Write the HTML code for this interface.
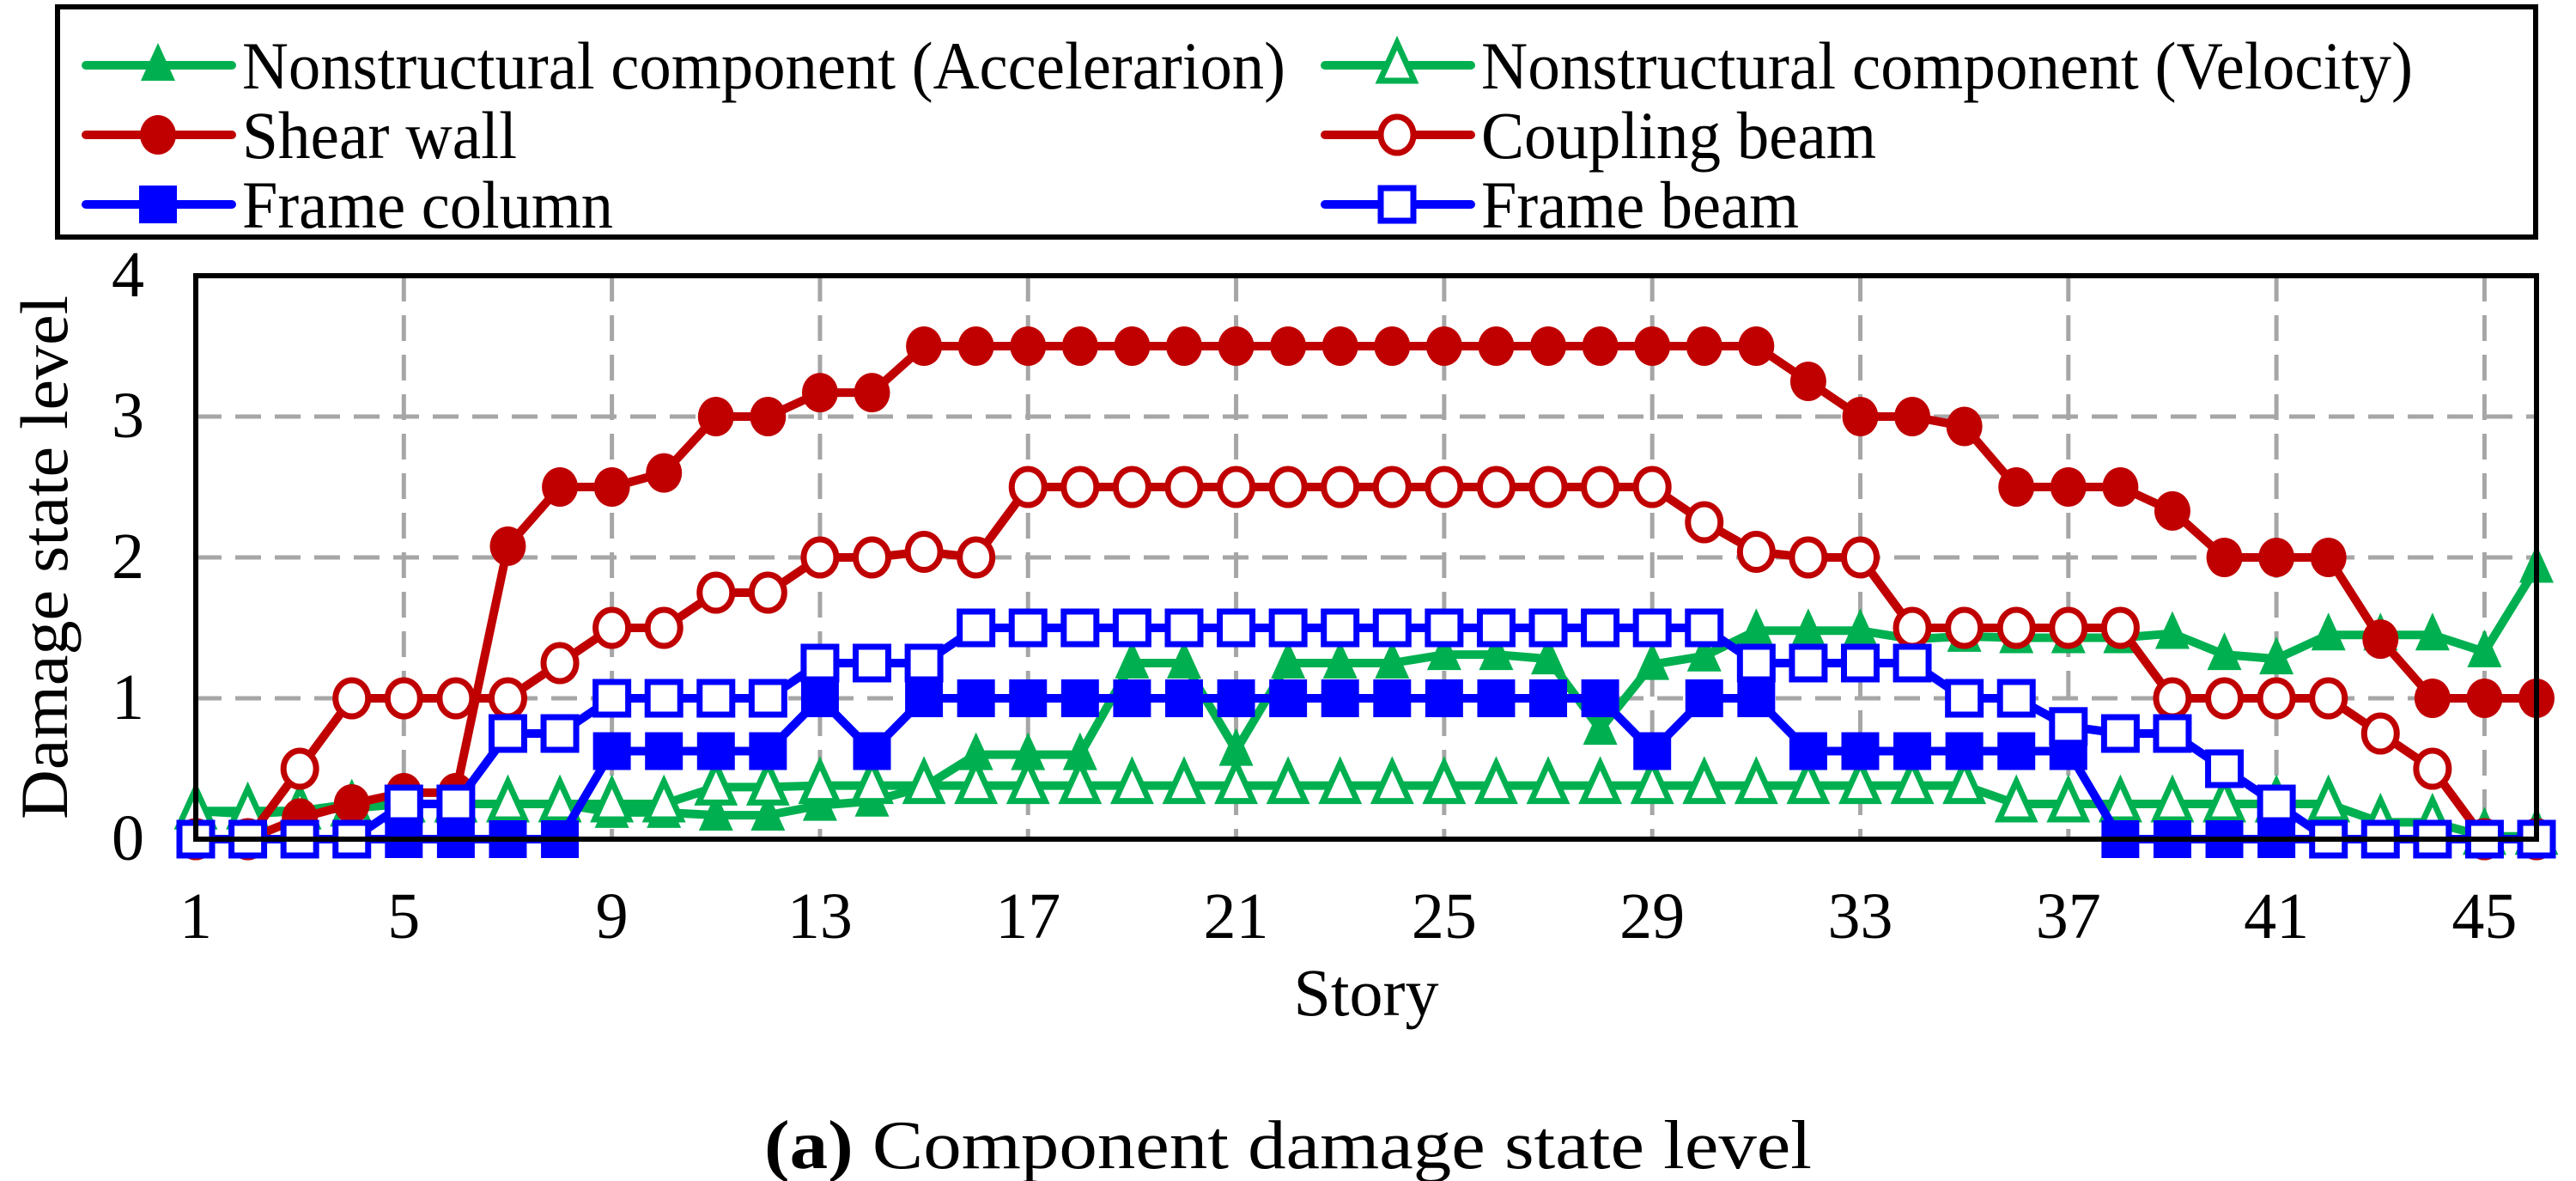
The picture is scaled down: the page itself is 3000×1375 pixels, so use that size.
<!DOCTYPE html>
<html><head><meta charset="utf-8"><style>
html,body{margin:0;padding:0;background:#fff;}
svg{display:block;font-family:"Liberation Serif","DejaVu Serif",serif;}
</style></head><body>
<svg id="chart" width="3000" height="1375" viewBox="0 0 3000 1375">
<g id="grid"></g>
<g id="series"></g>
<rect x="228" y="321" width="2726" height="656" fill="none" stroke="#000" stroke-width="6"/>
<g id="ticks"></g>
<text x="60" y="649" font-size="78" text-anchor="middle" dominant-baseline="middle" transform="rotate(-90 60 649)" textLength="610" lengthAdjust="spacingAndGlyphs">Damage state level</text>
<text x="1591" y="1182" font-size="78" text-anchor="middle">Story</text>
<text x="1500" y="1360" font-size="80" text-anchor="middle" textLength="1220" lengthAdjust="spacingAndGlyphs"><tspan font-weight="bold">(a)</tspan> Component damage state level</text>
<g id="legend">
<rect x="67" y="8" width="2886" height="268" fill="#fff" stroke="#000" stroke-width="6"/>
</g>
</svg>
<script>
const stories = Array.from({length:46},(_,i)=>i+1);
const xTicks = [1,5,9,13,17,21,25,29,33,37,41,45];
const yTicks = [0,1,2,3,4];
const accel = [0.2,0.18,0.2,0.25,0.25,0.25,0.25,0.25,0.19,0.19,0.17,0.17,0.24,0.27,0.37,0.6,0.6,0.6,1.25,1.25,0.63,1.25,1.25,1.25,1.31,1.31,1.28,0.78,1.24,1.3,1.48,1.48,1.48,1.42,1.44,1.43,1.43,1.43,1.46,1.31,1.28,1.45,1.45,1.45,1.33,1.93];
const velocity = [0.2,0.2,0.2,0.22,0.25,0.25,0.25,0.25,0.25,0.25,0.37,0.37,0.38,0.38,0.38,0.38,0.38,0.38,0.38,0.38,0.38,0.38,0.38,0.38,0.38,0.38,0.38,0.38,0.38,0.38,0.38,0.38,0.38,0.38,0.38,0.25,0.25,0.25,0.25,0.25,0.25,0.25,0.12,0.12,0.02,0.02];
const shearWall = [0,0,0.15,0.25,0.33,0.33,2.08,2.5,2.5,2.6,3,3,3.17,3.17,3.5,3.5,3.5,3.5,3.5,3.5,3.5,3.5,3.5,3.5,3.5,3.5,3.5,3.5,3.5,3.5,3.5,3.25,3,3,2.93,2.5,2.5,2.5,2.33,2,2,2,1.42,1,1,1];
const couplingBeam = [0,0,0.5,1,1,1,1,1.25,1.5,1.5,1.75,1.75,2,2,2.04,2,2.5,2.5,2.5,2.5,2.5,2.5,2.5,2.5,2.5,2.5,2.5,2.5,2.5,2.25,2.04,2,2,1.5,1.5,1.5,1.5,1.5,1,1,1,1,0.75,0.5,0,0];
const frameColumn = [0,0,0,0,0,0,0,0,0.625,0.625,0.625,0.625,1,0.625,1,1,1,1,1,1,1,1,1,1,1,1,1,1,0.625,1,1,0.625,0.625,0.625,0.625,0.625,0.625,0,0,0,0,0,0,0,0,0];
const frameBeam = [0,0,0,0,0.25,0.25,0.75,0.75,1,1,1,1,1.25,1.25,1.25,1.5,1.5,1.5,1.5,1.5,1.5,1.5,1.5,1.5,1.5,1.5,1.5,1.5,1.5,1.5,1.25,1.25,1.25,1.25,1,1,0.8,0.75,0.75,0.5,0.25,0,0,0,0,0];

const NS="http://www.w3.org/2000/svg";
const X0=228, X1=2954, Y0=977, Y1=321;
const xS = s => X0 + (s-1)*(X1-X0)/45;
const yS = v => Y0 - v*(Y0-Y1)/4;
function mk(tag,attrs,parent){const e=document.createElementNS(NS,tag);for(const k in attrs)e.setAttribute(k,attrs[k]);parent.appendChild(e);return e;}
const grid=document.getElementById('grid'), ticks=document.getElementById('ticks'), ser=document.getElementById('series'), leg=document.getElementById('legend');

xTicks.forEach(t=>{
  if(t>1){const l=mk('line',{x1:xS(t),x2:xS(t),y1:Y1,y2:Y0,stroke:'#a6a6a6','stroke-width':5,'stroke-dasharray':'30,16'},grid);
  
  }
  const tx=mk('text',{x:xS(t),y:1092,'font-size':76,'text-anchor':'middle'},ticks);tx.textContent=t;
  
  
});
yTicks.forEach(t=>{
  if(t>0&&t<4){const l=mk('line',{x1:X0,x2:X1,y1:yS(t),y2:yS(t),stroke:'#a6a6a6','stroke-width':5,'stroke-dasharray':'30,16'},grid);
  
  }
  const tx=mk('text',{x:168,y:yS(t)+24,'font-size':76,'text-anchor':'end'},ticks);tx.textContent=t;
  
  
});

function marker(shape,open,color,cx,cy,parent){
  const fill=open?'#fff':color, sw=open?7:0;
  let e;
  if(shape==='tri') e=mk('polygon',{points:`${cx},${cy-26} ${cx-20},${cy+18} ${cx+20},${cy+18}`,fill:fill,stroke:color,'stroke-width':sw,'stroke-linejoin':'miter'},parent);
  else if(shape==='circ') e=mk('ellipse',{cx:cx,cy:cy,rx:open?19:21,ry:open?21:23,fill:fill,stroke:color,'stroke-width':sw},parent);
  else e=mk('rect',{x:cx-(open?19:22),y:cy-(open?19:22),width:open?38:44,height:open?38:44,fill:fill,stroke:color,'stroke-width':sw},parent);
  return e;
}
const G='#00b050', R='#c00000', B='#0000ff';
const seriesList=[
  {name:'accel',vals:accel,shape:'tri',open:false,color:G,label:'Nonstructural component (Accelerarion)',col:0,row:0,w:1215},
  {name:'velocity',vals:velocity,shape:'tri',open:true,color:G,label:'Nonstructural component (Velocity)',col:1,row:0,w:1085},
  {name:'shear-wall',vals:shearWall,shape:'circ',open:false,color:R,label:'Shear wall',col:0,row:1,w:320},
  {name:'coupling-beam',vals:couplingBeam,shape:'circ',open:true,color:R,label:'Coupling beam',col:1,row:1,w:460},
  {name:'frame-column',vals:frameColumn,shape:'sq',open:false,color:B,label:'Frame column',col:0,row:2,w:432},
  {name:'frame-beam',vals:frameBeam,shape:'sq',open:true,color:B,label:'Frame beam',col:1,row:2,w:370}
];
seriesList.forEach(s=>{
  const g=mk('g',{},ser);
  
  
  const pl=mk('polyline',{points:s.vals.map((v,i)=>xS(stories[i])+','+yS(v)).join(' '),fill:'none',stroke:s.color,'stroke-width':10,'stroke-linejoin':'round'},g);
  
  
  s.vals.forEach((v,i)=>{const m=marker(s.shape,s.open,s.color,xS(stories[i]),yS(v),g);
    
    });
  const lx=s.col?1543:100, cy=[76,157,238][s.row];
  const lg=mk('g',{},leg);
  
  
  mk('line',{x1:lx,x2:lx+170,y1:cy,y2:cy,stroke:s.color,'stroke-width':10,'stroke-linecap':'round'},lg);
  marker(s.shape,s.open,s.color,lx+84,cy,lg);
  const t=mk('text',{x:lx+182,y:cy+27,'font-size':78,textLength:s.w,lengthAdjust:'spacingAndGlyphs'},lg);
  t.textContent=s.label;
});
</script>
</body></html>
